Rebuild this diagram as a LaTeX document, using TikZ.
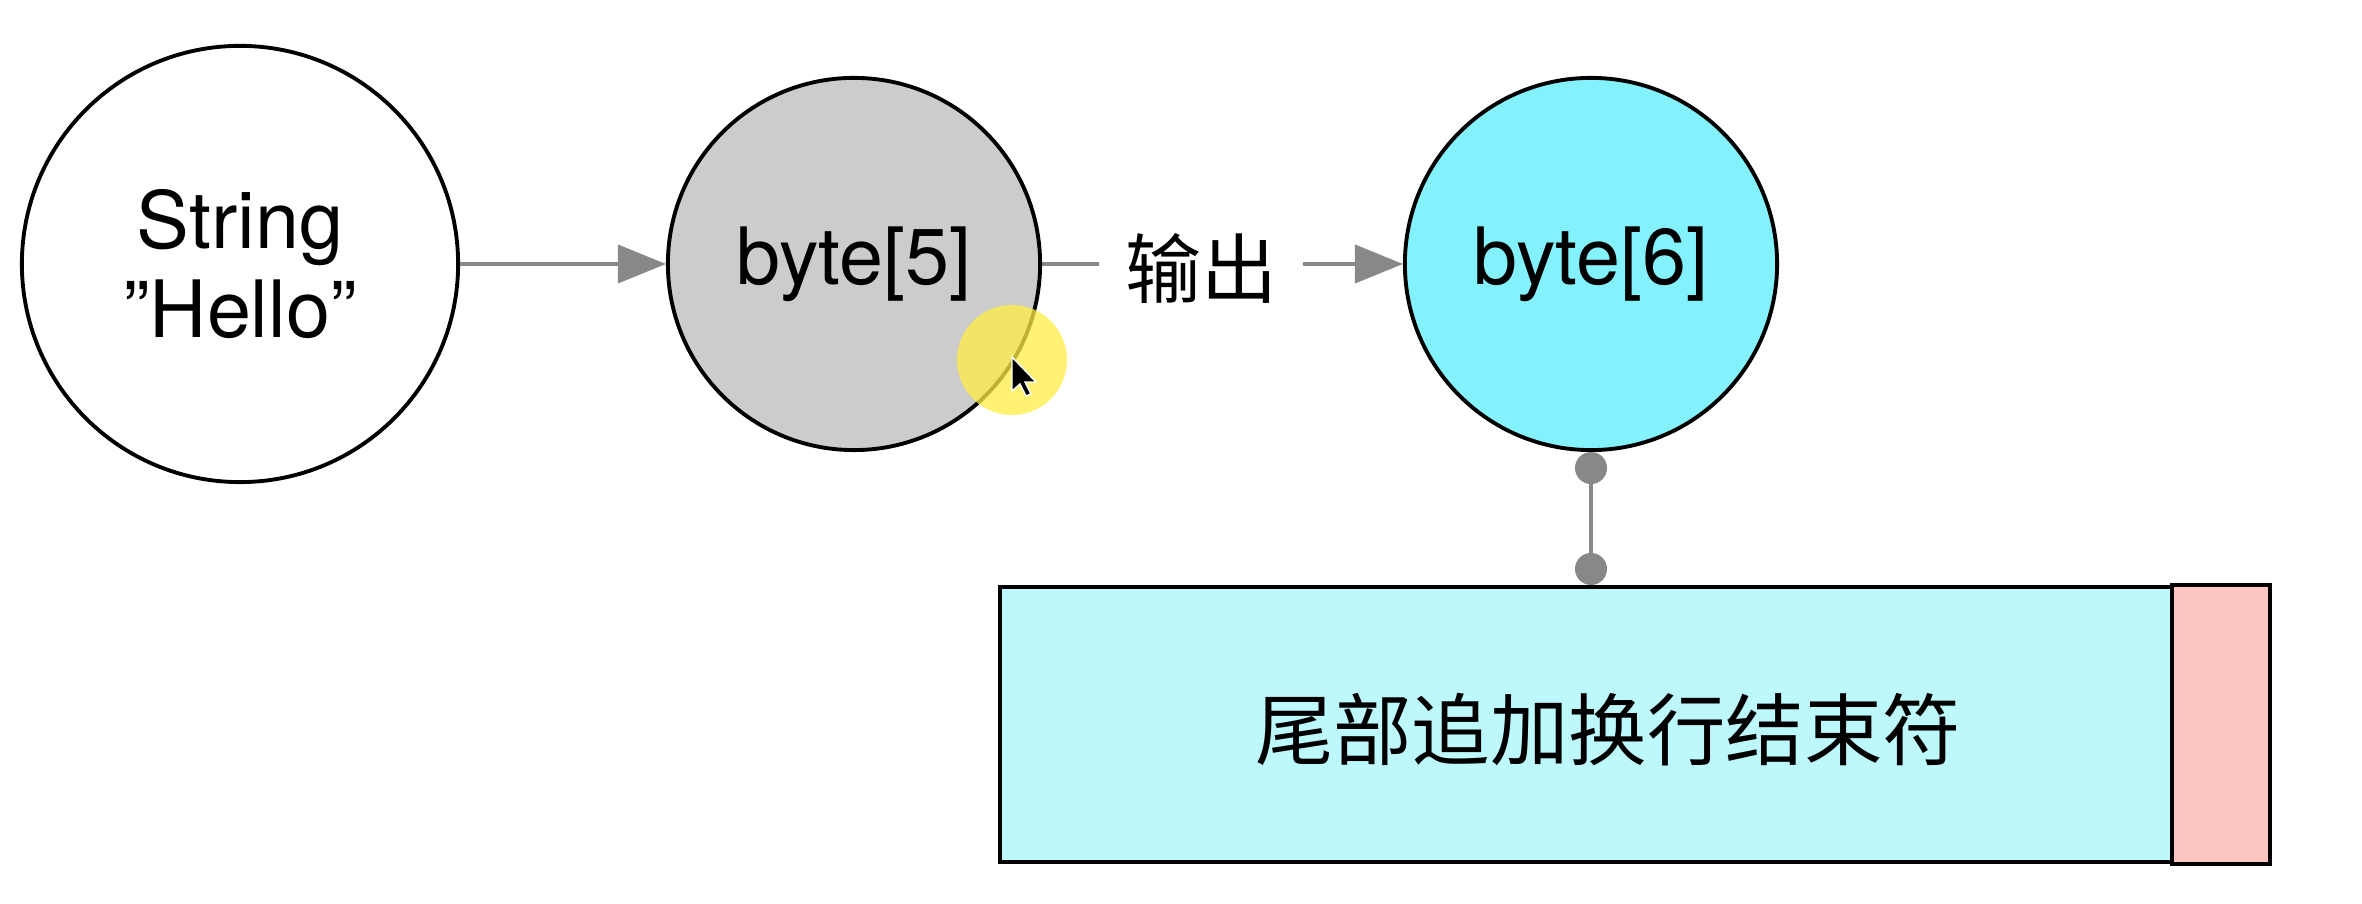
\documentclass[tikz,border=0pt]{standalone}
\usepackage{fontspec}
\setmainfont{TeX Gyre Heros}
\newfontfamily\cjk{Noto Sans CJK SC}
\usetikzlibrary{arrows.meta}
\definecolor{linegray}{HTML}{888888}
\definecolor{nodegray}{HTML}{CCCCCC}
\definecolor{nodecyan}{HTML}{84F2FC}
\definecolor{boxcyan}{HTML}{BDF8FD}
\definecolor{boxpink}{HTML}{FDC6C0}
\definecolor{hilite}{HTML}{FFEE44}
\tikzset{
  bubble/.style={circle, draw=black, line width=1.1pt, inner sep=0pt, align=center,
    font=\fontsize{22.5pt}{25.3pt}\selectfont},
  link/.style={draw=linegray, line width=1.1pt},
  arrowlink/.style={link, -{Triangle[length=0.48cm, width=0.38cm]}},
  dotlink/.style={draw=linegray, line width=0.9pt,
    {Circle[length=0.32cm, width=0.32cm]}-{Circle[length=0.32cm, width=0.32cm]}},
  cjktext/.style={font=\cjk\fontsize{22.3pt}{26pt}\selectfont, inner sep=0pt},
  framebox/.style={draw=black, line width=1.1pt, inner sep=0pt}
}
\begin{document}
\begin{tikzpicture}[x=0.01cm, y=-0.01cm]
\useasboundingbox (0,0) rectangle (2362,904);

% circles
\node[bubble, minimum size=4.36cm, fill=white] (str) at (240,264) {String\\”Hello”};
\node[bubble, minimum size=3.72cm, fill=nodegray] (b5) at (854,264) {\raisebox{-0.08cm}{byte[5]}};
\node[bubble, minimum size=3.72cm, fill=nodecyan] (b6) at (1591,264) {\raisebox{-0.08cm}{byte[6]}};

% connectors
\draw[arrowlink] (str.east) -- (b5.west);
\node[cjktext, font=\cjk\fontsize{21.6pt}{26pt}\selectfont, inner xsep=0.25cm] (out) at (1201,268) {输出};
\draw[link] (b5.east) -- (b5.east -| out.west);
\draw[arrowlink] (b6.west -| out.east) -- (b6.west);

% box
\node[framebox, fill=boxcyan, minimum width=12.68cm, minimum height=2.75cm] (box) at (1634,724.5) {};
\draw[framebox, fill=boxpink] ([xshift=-0.98cm]box.north east) rectangle (box.south east);
\node[cjktext] (boxtext) at (1608,730) {尾部追加换行结束符};

\draw[dotlink] (b6.south) -- (b6.south |- box.north);

% cursor highlight
\fill[hilite, opacity=0.75] (1012,360) circle (0.55cm);
\draw[white, line width=0.4pt, fill=black, shift={(1012,357)}]
  (0,0) -- (0,34) -- (8,27) -- (14,39) -- (19,37) -- (13,25) -- (24,25) -- cycle;
\end{tikzpicture}
\end{document}
